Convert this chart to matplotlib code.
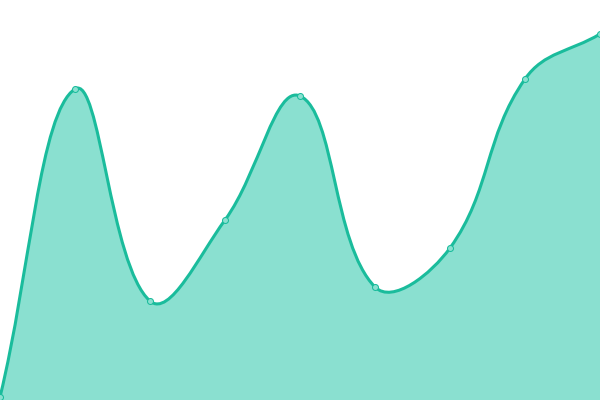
import numpy as np
import matplotlib
matplotlib.use("Agg")
import matplotlib.pyplot as plt
from matplotlib.path import Path
from matplotlib.patches import PathPatch

# values (0 = bottom edge, 400 = top edge)
categories = list(range(9))
values = [3, 311, 99, 180, 304, 113, 152, 321, 366]

LINE = "#1abc9c"
FILL = "#8ae0d0"
TENSION = 0.4


def spline_controls(pts, t=TENSION):
    """Bezier control points per point, distance-weighted (pixel space)."""
    n = len(pts)
    ctrl = []
    for i in range(n):
        prev = pts[max(i - 1, 0)]
        cur = pts[i]
        nxt = pts[min(i + 1, n - 1)]
        d01 = np.hypot(*(cur - prev))
        d12 = np.hypot(*(nxt - cur))
        tot = d01 + d12
        s01 = d01 / tot if tot else 0.0
        s12 = d12 / tot if tot else 0.0
        ctrl.append((cur - t * s01 * (nxt - prev), cur + t * s12 * (nxt - prev)))
    return ctrl


fig = plt.figure(figsize=(6, 4), dpi=100)
ax = fig.add_axes([0, 0, 1, 1])
ax.set_xlim(0, 8)
ax.set_ylim(0, 400)
ax.axis("off")

# work out the curve in pixel space, then map back to data coords
pix = ax.transData.transform(np.column_stack([categories, values]))
ctrl = spline_controls(pix)
verts = [pix[0]]
codes = [Path.MOVETO]
for i in range(len(pix) - 1):
    verts += [ctrl[i][1], ctrl[i + 1][0], pix[i + 1]]
    codes += [Path.CURVE4] * 3
verts = ax.transData.inverted().transform(np.array(verts))

area = Path(np.vstack([verts, [[categories[-1], 0], [categories[0], 0], verts[0]]]),
            codes + [Path.LINETO, Path.LINETO, Path.CLOSEPOLY])
ax.add_patch(PathPatch(area, facecolor=FILL, edgecolor="none"))
ax.add_patch(PathPatch(Path(verts, codes), facecolor="none", edgecolor=LINE,
                       linewidth=2.2, capstyle="round", joinstyle="round"))
ax.plot(categories, values, linestyle="none", marker="o", markersize=4.3,
        markerfacecolor=FILL, markeredgecolor=LINE, markeredgewidth=0.75,
        zorder=5, clip_on=False)

fig.savefig("out.png", dpi=100)
